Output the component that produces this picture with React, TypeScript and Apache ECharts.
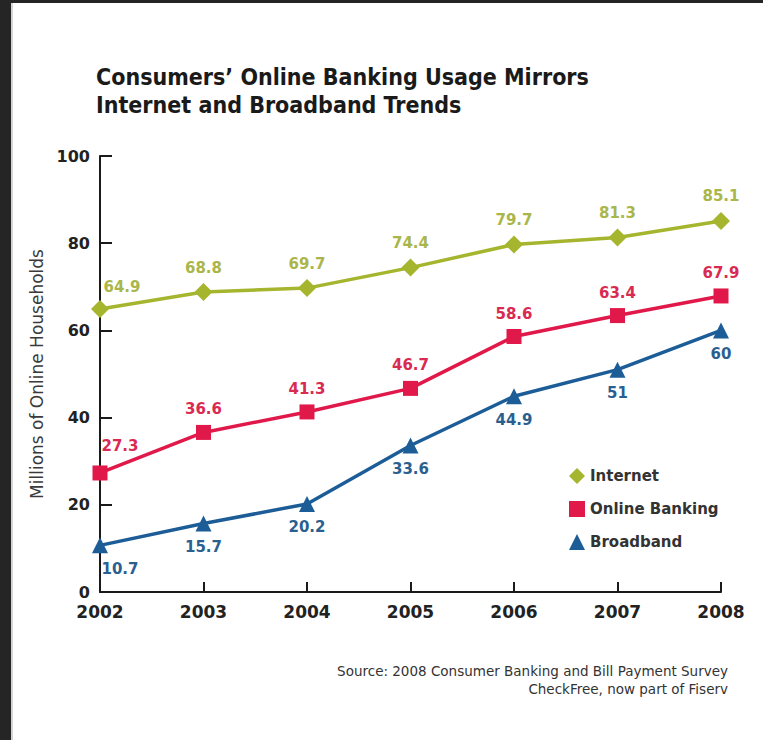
import React, { useEffect, useRef } from "react";
import * as echarts from "echarts";

const years = ["2002", "2003", "2004", "2005", "2006", "2007", "2008"];
const internet = [64.9, 68.8, 69.7, 74.4, 79.7, 81.3, 85.1];
const banking = [27.3, 36.6, 41.3, 46.7, 58.6, 63.4, 67.9];
const broadband = [10.7, 15.7, 20.2, 33.6, 44.9, 51, 60];
const yTicks = [0, 20, 40, 60, 80, 100];

const seriesNames = ["Internet", "Online Banking", "Broadband"];
const lineColors = ["#a6b52e", "#e0194a", "#1c5d98"];
const labelColors = ["#aab64a", "#d92a52", "#2b5f8f"];

const FONT = "DejaVu Sans";

export default function App() {
  const ref = useRef<HTMLDivElement>(null);
  useEffect(() => {
    if (!ref.current) return;
    const chart = echarts.init(ref.current, undefined, { renderer: "svg" });
    const mk = (
      idx: number,
      values: number[],
      symbol: string,
      size: number,
      pos: string,
      firstOffset: number[]
    ) => ({
      name: seriesNames[idx],
      type: "line",
      data: values.map((v, i) =>
        i === 0 ? { value: v, label: { offset: firstOffset } } : v
      ),
      symbol,
      symbolSize: size,
      showAllSymbol: true,
      lineStyle: { color: lineColors[idx], width: 3.5 },
      itemStyle: { color: lineColors[idx] },
      label: {
        show: true,
        position: pos,
        distance: 8,
        color: labelColors[idx],
        fontFamily: FONT,
        fontWeight: "bold",
        fontSize: 15,
      },
      z: 3,
    });
    chart.setOption({
      animation: false,
      backgroundColor: "#ffffff",
      title: {
        text: "Consumers\u2019 Online Banking Usage Mirrors\nInternet and Broadband Trends",
        left: 91,
        top: 58,
        textStyle: {
          fontFamily: "DejaVu Sans Condensed",
          fontWeight: "bold",
          fontSize: 23,
          lineHeight: 28,
          color: "#1a1a1a",
        },
      },
      legend: {
        orient: "vertical",
        left: 564,
        top: 463,
        itemWidth: 16,
        itemHeight: 16,
        itemGap: 17,
        textStyle: {
          fontFamily: FONT,
          fontWeight: "bold",
          fontSize: 15,
          color: "#333333",
        },
        data: [
          { name: seriesNames[0], icon: "diamond" },
          { name: seriesNames[1], icon: "rect" },
          { name: seriesNames[2], icon: "triangle" },
        ],
      },
      grid: { left: 100, right: 42, top: 156, bottom: 148 },
      xAxis: {
        type: "category",
        data: years,
        boundaryGap: false,
        axisLine: { lineStyle: { color: "#1a1a1a", width: 2 } },
        axisTick: { inside: true, length: 10, interval: 0, lineStyle: { color: "#1a1a1a", width: 2 } },
        axisLabel: {
          margin: 11,
          fontFamily: FONT,
          fontWeight: "bold",
          fontSize: 17,
          color: "#222222",
        },
      },
      yAxis: {
        type: "value",
        min: yTicks[0],
        max: yTicks[yTicks.length - 1],
        interval: 20,
        name: "Millions of Online Households",
        nameLocation: "middle",
        nameGap: 52,
        nameTextStyle: { fontFamily: FONT, fontSize: 17, color: "#3a3a3a" },
        splitLine: { show: false },
        axisLine: { show: true, lineStyle: { color: "#1a1a1a", width: 2 } },
        axisTick: { show: true, inside: true, length: 12, lineStyle: { color: "#1a1a1a", width: 2 } },
        axisLabel: {
          margin: 10,
          fontFamily: FONT,
          fontWeight: "bold",
          fontSize: 16,
          color: "#222222",
        },
      },
      graphic: [
        { type: "rect", shape: { x: 0, y: 0, width: 11, height: 740 }, style: { fill: "#252525" } },
        { type: "rect", shape: { x: 0, y: 0, width: 763, height: 3 }, style: { fill: "#252525" } },
        { type: "rect", shape: { x: 11, y: 3, width: 2, height: 737 }, style: { fill: "#d4d4d4" } },
        {
          type: "text",
          x: 728,
          y: 664,
          style: {
            text: "Source: 2008 Consumer Banking and Bill Payment Survey",
            align: "right",
            fontFamily: FONT,
            fontSize: 13.5,
            fill: "#333333",
          },
        },
        {
          type: "text",
          x: 728,
          y: 682,
          style: {
            text: "CheckFree, now part of Fiserv",
            align: "right",
            fontFamily: FONT,
            fontSize: 13.5,
            fill: "#333333",
          },
        },
      ],
      series: [
        mk(0, internet, "diamond", 18, "top", [22, 2]),
        mk(1, banking, "rect", 15, "top", [20, -4]),
        mk(2, broadband, "triangle", 16, "bottom", [20, 0]),
      ],
    });
    return () => chart.dispose();
  }, []);
  return (
    <div
      ref={ref}
      style={{ position: "fixed", left: 0, top: 0, width: 763, height: 740 }}
    />
  );
}
